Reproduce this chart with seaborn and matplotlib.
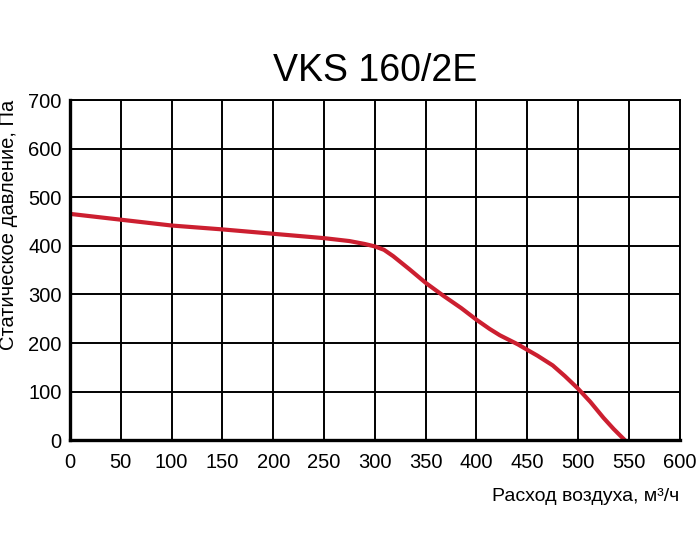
import pandas as pd
import matplotlib
matplotlib.use("Agg")
import matplotlib.pyplot as plt
import seaborn as sns

# Curve
flow = [0, 50, 100, 150, 200, 250, 275, 290, 300, 309, 318, 334, 350, 367, 385, 400,
        413, 423, 441, 450, 460, 475, 487, 500, 512, 525, 535, 546]
pressure = [466, 454, 442, 434, 425, 416, 410, 404, 399, 392, 379, 352, 324, 298, 272, 248,
            229, 216, 197, 186, 174, 154, 132, 106, 79, 46, 23, 0]
x_ticks = list(range(0, 601, 50))
y_ticks = list(range(0, 701, 100))

title = "VKS 160/2E"
x_label = "Расход воздуха, м³/ч"
y_label = "Статическое давление, Па"

sns.set_style("white")
plt.rcParams['font.family'] = ['Liberation Sans', 'DejaVu Sans']

data = pd.DataFrame({'flow': flow, 'pressure': pressure})

fig = plt.figure(figsize=(7, 5.6), dpi=100)
ax = fig.add_axes([0.1, 0.214, 0.871, 0.607])

sns.lineplot(data=data, x='flow', y='pressure', ax=ax, color='#cc1f30', linewidth=3)

ax.set_xlim(0, 600)
ax.set_ylim(0, 700)
ax.set_xticks(x_ticks)
ax.set_yticks(y_ticks)
ax.grid(True, color='black', linewidth=1.4)
ax.set_axisbelow(True)
ax.tick_params(axis='both', length=0, labelsize=14.5, colors='black')
ax.tick_params(axis='x', pad=9)
ax.tick_params(axis='y', pad=6)

for side in ['left', 'bottom']:
    ax.spines[side].set_linewidth(2.4)
    ax.spines[side].set_color('black')
for side in ['top', 'right']:
    ax.spines[side].set_linewidth(1.4)
    ax.spines[side].set_color('black')

ax.set_title(title, fontsize=27, pad=14, color='black')
ax.set_xlabel(x_label, fontsize=14, loc='right', labelpad=12, color='black')
ax.set_ylabel(y_label, fontsize=14.5, loc='top', labelpad=7, color='black')

fig.savefig("out.png", dpi=100)
